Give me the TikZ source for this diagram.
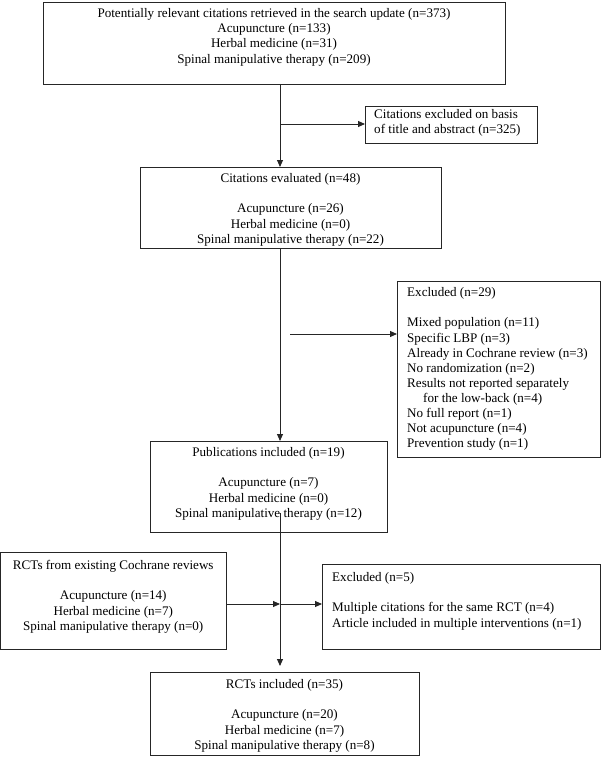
\documentclass[tikz,border=0pt]{standalone}
\usepackage{fontspec}
\setmainfont{Liberation Serif}
\usetikzlibrary{arrows.meta}
\tikzset{
  box/.style={draw=black!85, line width=0.9pt, inner sep=0pt, outer sep=0pt, anchor=north west},
  ctext/.style={align=center, anchor=north, inner sep=0pt, font=\fontsize{13.1}{15.1}\selectfont},
  ltext/.style={align=left, anchor=north west, inner sep=0pt, font=\fontsize{13.1}{15.1}\selectfont},
  conn/.style={draw=black!85, line width=0.9pt},
  arr/.style={conn, -{Triangle[length=7pt,width=6pt]}}
}
\begin{document}
\begin{tikzpicture}[x=1pt,y=-1pt]
\useasboundingbox (0,0) rectangle (602,757);
% boxes
\node[box, minimum width=462pt, minimum height=82pt] (b1) at (43,2) {};
\node[box, minimum width=172pt, minimum height=37pt] (b2) at (365,106) {};
\node[box, minimum width=301pt, minimum height=81pt] (b3) at (140,167) {};
\node[box, minimum width=203.5pt, minimum height=176pt] (b4) at (397,281) {};
\node[box, minimum width=237pt, minimum height=91pt] (b5) at (150,441) {};
\node[box, minimum width=225.5pt, minimum height=97pt] (b6) at (0.5,552) {};
\node[box, minimum width=278.5pt, minimum height=85pt] (b7) at (322,564) {};
\node[box, minimum width=269pt, minimum height=83pt] (b8) at (150,672) {};
% texts
\node[ctext] (t1) at ([yshift=-5pt]b1.north) {\strut Potentially relevant citations retrieved in the search update (n=373)\\ Acupuncture (n=133)\\ Herbal medicine (n=31)\\ Spinal manipulative therapy (n=209)};
\node[ltext] (t2) at ([xshift=9pt,yshift=-2pt]b2.north west) {\strut Citations excluded on basis\\ of title and abstract (n=325)};
\node[ctext] (t3) at ([yshift=-5pt]b3.north) {\strut Citations evaluated (n=48)\\[15.1pt] Acupuncture (n=26)\\ Herbal medicine (n=0)\\ Spinal manipulative therapy (n=22)};
\node[ltext] (t4) at ([xshift=10pt,yshift=-5pt]b4.north west) {\strut Excluded (n=29)\\[15.1pt] Mixed population (n=11)\\ Specific LBP (n=3)\\ Already in Cochrane review (n=3)\\ No randomization (n=2)\\ Results not reported separately\\ \hspace*{16pt}for the low-back (n=4)\\ No full report (n=1)\\ Not acupuncture (n=4)\\ Prevention study (n=1)};
\node[ctext] (t5) at ([yshift=-5pt]b5.north) {\strut Publications included (n=19)\\[15.1pt] Acupuncture (n=7)\\ Herbal medicine (n=0)\\ Spinal manipulative therapy (n=12)};
\node[ctext] (t6) at ([yshift=-7pt]b6.north) {\strut RCTs from existing Cochrane reviews\\[15.1pt] Acupuncture (n=14)\\ Herbal medicine (n=7)\\ Spinal manipulative therapy (n=0)};
\node[ltext] (t7) at ([xshift=10pt,yshift=-7pt]b7.north west) {\strut Excluded (n=5)\\[15.1pt] Multiple citations for the same RCT (n=4)\\ Article included in multiple interventions (n=1)};
\node[ctext] (t8) at ([yshift=-6pt]b8.north) {\strut RCTs included (n=35)\\[15.1pt] Acupuncture (n=20)\\ Herbal medicine (n=7)\\ Spinal manipulative therapy (n=8)};
% connector points
\coordinate (mx) at (280,0);
\coordinate (j1) at (280,124);
\coordinate (s1) at (290,334);
\coordinate (s2) at (280,513);
\coordinate (j2) at (280,604);
% connectors
\draw[arr] (b1.south -| mx) -- (b3.north -| mx);
\draw[arr] (j1) -- (j1 -| b2.west);
\draw[arr] (b3.south -| mx) -- (b5.north -| mx);
\draw[arr] (s1) -- (s1 -| b4.west);
\draw[arr, shorten >=6pt] (s2) -- (b8.north -| mx);
\draw[arr] (b6.east |- j2) -- (j2);
\draw[arr] (j2) -- (j2 -| b7.west);
\end{tikzpicture}
\end{document}
